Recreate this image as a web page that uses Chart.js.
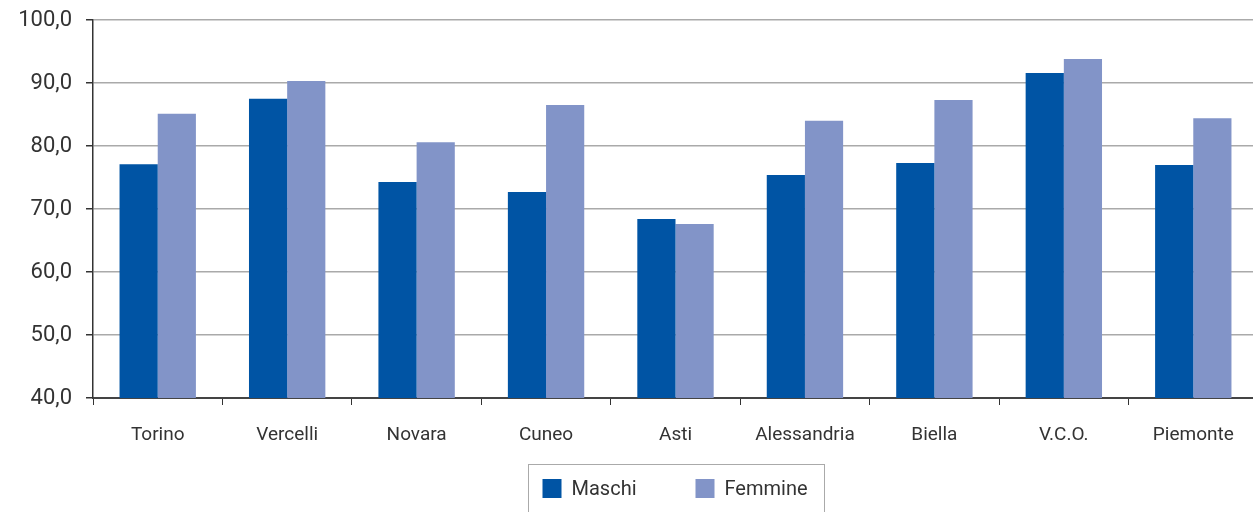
<!DOCTYPE html>
<html>
<head>
<meta charset="utf-8">
<script src="https://cdn.jsdelivr.net/npm/chart.js@4/dist/chart.umd.min.js"></script>
<style>
  html, body { margin: 0; padding: 0; background: #fff; overflow: hidden; }
  #wrap { width: 1258px; height: 512px; position: relative; }
</style>
</head>
<body>
<div id="wrap"><canvas id="chart"></canvas></div>
<script>
const categories = ['Torino', 'Vercelli', 'Novara', 'Cuneo', 'Asti', 'Alessandria', 'Biella', 'V.C.O.', 'Piemonte'];
const maschi = [77.1, 87.5, 74.3, 72.7, 68.4, 75.4, 77.3, 91.6, 77.0];
const femmine = [85.1, 90.3, 80.6, 86.5, 67.6, 84.0, 87.3, 93.8, 84.4];
const seriesNames = ['Maschi', 'Femmine'];
const seriesColors = ['#0054a4', '#8294c8'];

const fontFamily = "'Roboto', 'Liberation Sans', sans-serif";
const textColor = '#333';

// legend in a box, centred under the plot area
const boxLegend = {
  id: 'boxLegend',
  afterDraw(chart) {
    const ctx = chart.ctx;
    const area = chart.chartArea;
    const w = 296, top = 464;
    const left = Math.round((area.left + area.right) / 2 - w / 2) + 0.5;
    ctx.save();
    ctx.strokeStyle = '#aaa';
    ctx.lineWidth = 1;
    ctx.strokeRect(left, top + 0.5, w, 60);
    ctx.font = '20px ' + fontFamily;
    ctx.textBaseline = 'middle';
    const offsets = [14, 167];
    seriesNames.forEach((name, i) => {
      const x = left + offsets[i];
      ctx.fillStyle = seriesColors[i];
      ctx.fillRect(x, top + 15, 19, 19);
      ctx.fillStyle = textColor;
      ctx.fillText(name, x + 29, top + 26);
    });
    ctx.restore();
  }
};

const ctx = document.getElementById('chart').getContext('2d');
new Chart(ctx, {
  type: 'bar',
  data: {
    labels: categories,
    datasets: [
      { label: seriesNames[0], data: maschi, backgroundColor: seriesColors[0] },
      { label: seriesNames[1], data: femmine, backgroundColor: seriesColors[1] }
    ]
  },
  options: {
    responsive: true,
    maintainAspectRatio: false,
    animation: false,
    datasets: {
      bar: { categoryPercentage: 0.59, barPercentage: 1.0 }
    },
    layout: {
      padding: { top: 20, right: 0, left: 0, bottom: 0 }
    },
    plugins: {
      legend: { display: false },
      tooltip: { enabled: false }
    },
    scales: {
      x: {
        grid: {
          offset: true,
          drawOnChartArea: false,
          tickLength: 7,
          tickColor: '#333'
        },
        border: { color: '#444', width: 2 },
        ticks: {
          color: textColor,
          font: { family: fontFamily, size: 19 },
          padding: 19,
          maxRotation: 0
        },
        afterFit(scale) {
          scale.height = 114;
          scale.paddingLeft = 0;
          scale.paddingRight = 0;
        }
      },
      y: {
        min: 40,
        max: 100,
        ticks: {
          stepSize: 10,
          color: textColor,
          font: { family: fontFamily, size: 22 },
          padding: 14,
          callback: v => v.toFixed(1).replace('.', ',')
        },
        grid: {
          color: '#aaa',
          lineWidth: 1.5,
          tickLength: 7,
          tickColor: '#333'
        },
        border: { color: '#333', width: 1.5 },
        afterFit(scale) {
          scale.width = 93;
          scale.paddingTop = 0;
          scale.paddingBottom = 0;
        }
      }
    }
  },
  plugins: [boxLegend]
});
</script>
</body>
</html>
